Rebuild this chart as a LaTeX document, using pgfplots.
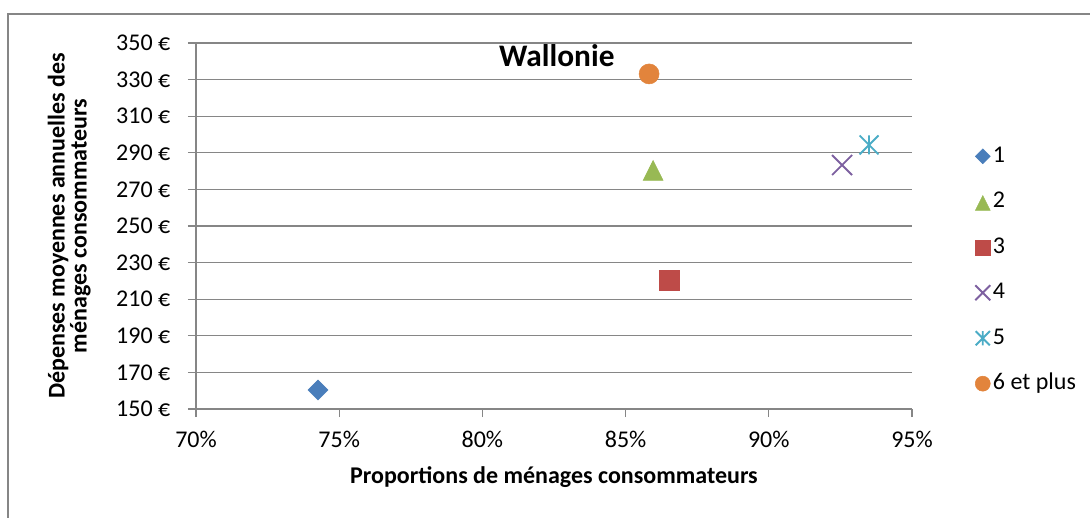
\documentclass[border=0pt]{standalone}
\usepackage{fontspec}
\setmainfont{Carlito}
\usepackage{pgfplots}
\pgfplotsset{compat=1.18}
\definecolor{gridgray}{HTML}{868686}
\definecolor{cblue}{HTML}{4A7EBB}
\definecolor{cgreen}{HTML}{98B954}
\definecolor{cred}{HTML}{BE4B48}
\definecolor{cpurple}{HTML}{7D60A0}
\definecolor{cteal}{HTML}{4BACC6}
\definecolor{corange}{HTML}{E2843C}
\pgfdeclareplotmark{xstar}{%
  \pgfpathmoveto{\pgfqpoint{-\pgfplotmarksize}{-\pgfplotmarksize}}%
  \pgfpathlineto{\pgfqpoint{\pgfplotmarksize}{\pgfplotmarksize}}%
  \pgfpathmoveto{\pgfqpoint{-\pgfplotmarksize}{\pgfplotmarksize}}%
  \pgfpathlineto{\pgfqpoint{\pgfplotmarksize}{-\pgfplotmarksize}}%
  \pgfpathmoveto{\pgfqpoint{0pt}{-\pgfplotmarksize}}%
  \pgfpathlineto{\pgfqpoint{0pt}{\pgfplotmarksize}}%
  \pgfusepathqstroke}
\pgfdeclareplotmark{bigx}{%
  \pgfpathmoveto{\pgfqpoint{-\pgfplotmarksize}{-\pgfplotmarksize}}%
  \pgfpathlineto{\pgfqpoint{\pgfplotmarksize}{\pgfplotmarksize}}%
  \pgfpathmoveto{\pgfqpoint{-\pgfplotmarksize}{\pgfplotmarksize}}%
  \pgfpathlineto{\pgfqpoint{\pgfplotmarksize}{-\pgfplotmarksize}}%
  \pgfusepathqstroke}
\begin{document}
\begin{tikzpicture}
\useasboundingbox (0,0) rectangle (817.5pt,388.5pt);
\draw[gridgray, line width=1.5pt] (6pt,-3pt) -- (6pt,378pt) -- (820pt,378pt);
\begin{axis}[
  at={(147pt,81.75pt)}, anchor=south west,
  scale only axis, width=537pt, height=274.5pt,
  xmin=70, xmax=95, ymin=150, ymax=350,
  xtick={70,75,...,95}, ytick={150,170,...,350},
  axis x line=bottom, axis y line=left,
  axis line style={-, gridgray, line width=1pt},
  tick style={gridgray, line width=1pt},
  major tick length=6pt, tick align=outside,
  ymajorgrids, grid style={gridgray, line width=1pt},
  font=\fontsize{18}{21.6}\selectfont,
  xticklabel={\pgfmathprintnumber[assume math mode=true]{\tick}\%},
  yticklabel={\pgfmathprintnumber[assume math mode=true]{\tick}~€},
  xticklabel style={yshift=-7pt},
  yticklabel style={xshift=-9.75pt},
  xlabel={Proportions de ménages consommateurs},
  xlabel style={font=\fontsize{18}{21.6}\selectfont\bfseries, at={(axis description cs:0.5,-0.186)}, anchor=center},
  ylabel={Dépenses moyennes annuelles des\\ménages consommateurs},
  ylabel style={font=\fontsize{18}{16.5}\selectfont\bfseries, align=center, at={(axis description cs:-0.177,0.5)}, anchor=center, rotate=0},
  title={Wallonie},
  title style={font=\fontsize{23.5}{28}\selectfont\bfseries, at={(axis description cs:0.504,0.945)}, anchor=center},
  legend image code/.code={\draw[#1, every mark/.append style={scale=0.75}] plot coordinates {(0.2cm,0cm)};},
  legend style={at={(axis description cs:1.088,0.722)}, anchor=north west, draw=none, fill=none,
    font=\fontsize{18}{21.6}\selectfont, inner sep=0pt,
    nodes={inner sep=0pt, text height=13pt, text depth=4pt},
    row sep=17.1pt, column sep=2pt},
  legend cell align=left,
]
\addplot[only marks, mark=square*, mark size=5.3pt, color=cblue, mark options={rotate=45, fill=cblue, draw=cblue}] coordinates {(74.26,160.4)};
\addlegendentry{1}
\addplot[only marks, mark=triangle*, mark size=8.6pt, color=cgreen, mark options={yscale=1.15, yshift=-2.4pt, fill=cgreen, draw=cgreen}] coordinates {(85.96,280.6)};
\addlegendentry{2}
\addplot[only marks, mark=square*, mark size=7.5pt, color=cred, mark options={fill=cred, draw=cred}] coordinates {(86.52,220.5)};
\addlegendentry{3}
\addplot[only marks, mark=bigx, mark size=7.5pt, color=cpurple, line width=1.4pt] coordinates {(92.56,283.3)};
\addlegendentry{4}
\addplot[only marks, mark=xstar, mark size=7.1pt, color=cteal, line width=1.4pt] coordinates {(93.5,294.3)};
\addlegendentry{5}
\addplot[only marks, mark=*, mark size=7.5pt, color=corange, mark options={fill=corange, draw=corange}] coordinates {(85.82,333.1)};
\addlegendentry{6 et plus}
\end{axis}
\end{tikzpicture}
\end{document}
